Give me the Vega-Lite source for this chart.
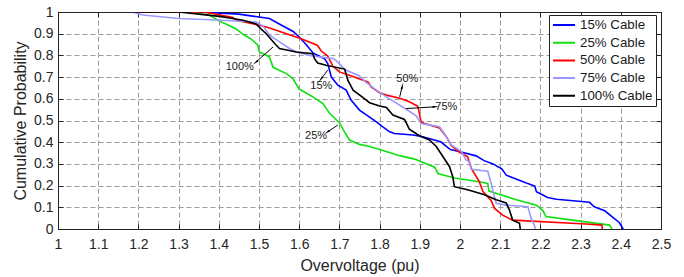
{
  "$schema": "https://vega.github.io/schema/vega-lite/v6.json",
  "width": 603,
  "height": 217,
  "autosize": {"type": "none"},
  "padding": {"left": 58, "top": 12, "right": 23, "bottom": 48},
  "config": {
    "font": "Liberation Sans",
    "view": {"stroke": "#222"},
    "axis": {
      "domainColor": "#222",
      "tickColor": "#222",
      "labelColor": "#262626",
      "titleColor": "#262626",
      "labelFontSize": 14,
      "titleFontSize": 16,
      "titleFontWeight": "normal",
      "tickSize": -5,
      "labelFlush": false,
      "gridColor": "#9a9a9a",
      "gridDash": [5, 3],
      "gridWidth": 1
    }
  },
  "datasets": {
    "curves": [
      {"s":"15% Cable","v":1,"p":1},{"s":"15% Cable","v":1.35,"p":1},{"s":"15% Cable","v":1.45,"p":0.99},{"s":"15% Cable","v":1.5,"p":0.977},{"s":"15% Cable","v":1.526,"p":0.97},{"s":"15% Cable","v":1.555,"p":0.94},{"s":"15% Cable","v":1.585,"p":0.91},{"s":"15% Cable","v":1.6,"p":0.885},{"s":"15% Cable","v":1.615,"p":0.855},{"s":"15% Cable","v":1.635,"p":0.81},{"s":"15% Cable","v":1.663,"p":0.785},{"s":"15% Cable","v":1.671,"p":0.762},{"s":"15% Cable","v":1.68,"p":0.7},{"s":"15% Cable","v":1.696,"p":0.663},{"s":"15% Cable","v":1.717,"p":0.64},{"s":"15% Cable","v":1.729,"p":0.594},{"s":"15% Cable","v":1.75,"p":0.548},{"s":"15% Cable","v":1.792,"p":0.494},{"s":"15% Cable","v":1.808,"p":0.471},{"s":"15% Cable","v":1.825,"p":0.448},{"s":"15% Cable","v":1.837,"p":0.44},{"s":"15% Cable","v":1.883,"p":0.433},{"s":"15% Cable","v":1.907,"p":0.425},{"s":"15% Cable","v":1.952,"p":0.402},{"s":"15% Cable","v":1.976,"p":0.366},{"s":"15% Cable","v":2.0,"p":0.356},{"s":"15% Cable","v":2.04,"p":0.337},{"s":"15% Cable","v":2.06,"p":0.315},{"s":"15% Cable","v":2.082,"p":0.3},{"s":"15% Cable","v":2.104,"p":0.277},{"s":"15% Cable","v":2.115,"p":0.248},{"s":"15% Cable","v":2.165,"p":0.212},{"s":"15% Cable","v":2.186,"p":0.198},{"s":"15% Cable","v":2.19,"p":0.172},{"s":"15% Cable","v":2.218,"p":0.145},{"s":"15% Cable","v":2.24,"p":0.137},{"s":"15% Cable","v":2.322,"p":0.123},{"s":"15% Cable","v":2.334,"p":0.102},{"s":"15% Cable","v":2.36,"p":0.084},{"s":"15% Cable","v":2.396,"p":0.03},{"s":"15% Cable","v":2.406,"p":0},
      {"s":"25% Cable","v":1,"p":1},{"s":"25% Cable","v":1.33,"p":1},{"s":"25% Cable","v":1.377,"p":0.985},{"s":"25% Cable","v":1.402,"p":0.958},{"s":"25% Cable","v":1.427,"p":0.937},{"s":"25% Cable","v":1.443,"p":0.922},{"s":"25% Cable","v":1.462,"p":0.895},{"s":"25% Cable","v":1.481,"p":0.875},{"s":"25% Cable","v":1.497,"p":0.847},{"s":"25% Cable","v":1.501,"p":0.816},{"s":"25% Cable","v":1.526,"p":0.793},{"s":"25% Cable","v":1.535,"p":0.745},{"s":"25% Cable","v":1.568,"p":0.716},{"s":"25% Cable","v":1.584,"p":0.693},{"s":"25% Cable","v":1.6,"p":0.645},{"s":"25% Cable","v":1.634,"p":0.609},{"s":"25% Cable","v":1.646,"p":0.594},{"s":"25% Cable","v":1.659,"p":0.578},{"s":"25% Cable","v":1.676,"p":0.532},{"s":"25% Cable","v":1.7,"p":0.49},{"s":"25% Cable","v":1.715,"p":0.44},{"s":"25% Cable","v":1.725,"p":0.41},{"s":"25% Cable","v":1.75,"p":0.39},{"s":"25% Cable","v":1.775,"p":0.38},{"s":"25% Cable","v":1.808,"p":0.362},{"s":"25% Cable","v":1.85,"p":0.338},{"s":"25% Cable","v":1.887,"p":0.322},{"s":"25% Cable","v":1.937,"p":0.285},{"s":"25% Cable","v":1.945,"p":0.256},{"s":"25% Cable","v":1.986,"p":0.235},{"s":"25% Cable","v":2.048,"p":0.218},{"s":"25% Cable","v":2.069,"p":0.21},{"s":"25% Cable","v":2.072,"p":0.175},{"s":"25% Cable","v":2.14,"p":0.135},{"s":"25% Cable","v":2.19,"p":0.11},{"s":"25% Cable","v":2.206,"p":0.085},{"s":"25% Cable","v":2.214,"p":0.057},{"s":"25% Cable","v":2.28,"p":0.041},{"s":"25% Cable","v":2.372,"p":0.018},{"s":"25% Cable","v":2.378,"p":0},
      {"s":"50% Cable","v":1,"p":1},{"s":"50% Cable","v":1.36,"p":1},{"s":"50% Cable","v":1.385,"p":0.993},{"s":"50% Cable","v":1.435,"p":0.975},{"s":"50% Cable","v":1.443,"p":0.962},{"s":"50% Cable","v":1.501,"p":0.939},{"s":"50% Cable","v":1.518,"p":0.931},{"s":"50% Cable","v":1.543,"p":0.916},{"s":"50% Cable","v":1.568,"p":0.9},{"s":"50% Cable","v":1.6,"p":0.88},{"s":"50% Cable","v":1.645,"p":0.847},{"s":"50% Cable","v":1.655,"p":0.82},{"s":"50% Cable","v":1.671,"p":0.797},{"s":"50% Cable","v":1.684,"p":0.75},{"s":"50% Cable","v":1.7,"p":0.724},{"s":"50% Cable","v":1.725,"p":0.709},{"s":"50% Cable","v":1.771,"p":0.678},{"s":"50% Cable","v":1.779,"p":0.655},{"s":"50% Cable","v":1.8,"p":0.628},{"s":"50% Cable","v":1.817,"p":0.617},{"s":"50% Cable","v":1.85,"p":0.603},{"s":"50% Cable","v":1.874,"p":0.586},{"s":"50% Cable","v":1.895,"p":0.565},{"s":"50% Cable","v":1.899,"p":0.532},{"s":"50% Cable","v":1.903,"p":0.494},{"s":"50% Cable","v":1.912,"p":0.486},{"s":"50% Cable","v":1.949,"p":0.465},{"s":"50% Cable","v":1.966,"p":0.425},{"s":"50% Cable","v":1.978,"p":0.385},{"s":"50% Cable","v":1.997,"p":0.356},{"s":"50% Cable","v":2.019,"p":0.333},{"s":"50% Cable","v":2.028,"p":0.279},{"s":"50% Cable","v":2.048,"p":0.218},{"s":"50% Cable","v":2.057,"p":0.172},{"s":"50% Cable","v":2.077,"p":0.133},{"s":"50% Cable","v":2.086,"p":0.095},{"s":"50% Cable","v":2.106,"p":0.064},{"s":"50% Cable","v":2.131,"p":0.041},{"s":"50% Cable","v":2.314,"p":0.023},{"s":"50% Cable","v":2.353,"p":0.018},{"s":"50% Cable","v":2.354,"p":0},
      {"s":"75% Cable","v":1,"p":1},{"s":"75% Cable","v":1.185,"p":1},{"s":"75% Cable","v":1.211,"p":0.986},{"s":"75% Cable","v":1.3,"p":0.97},{"s":"75% Cable","v":1.41,"p":0.962},{"s":"75% Cable","v":1.493,"p":0.954},{"s":"75% Cable","v":1.51,"p":0.935},{"s":"75% Cable","v":1.526,"p":0.893},{"s":"75% Cable","v":1.551,"p":0.862},{"s":"75% Cable","v":1.576,"p":0.832},{"s":"75% Cable","v":1.593,"p":0.816},{"s":"75% Cable","v":1.626,"p":0.8},{"s":"75% Cable","v":1.65,"p":0.793},{"s":"75% Cable","v":1.686,"p":0.785},{"s":"75% Cable","v":1.7,"p":0.762},{"s":"75% Cable","v":1.713,"p":0.735},{"s":"75% Cable","v":1.75,"p":0.705},{"s":"75% Cable","v":1.767,"p":0.675},{"s":"75% Cable","v":1.792,"p":0.64},{"s":"75% Cable","v":1.817,"p":0.609},{"s":"75% Cable","v":1.837,"p":0.586},{"s":"75% Cable","v":1.866,"p":0.552},{"s":"75% Cable","v":1.891,"p":0.521},{"s":"75% Cable","v":1.903,"p":0.486},{"s":"75% Cable","v":1.949,"p":0.471},{"s":"75% Cable","v":1.961,"p":0.44},{"s":"75% Cable","v":1.978,"p":0.387},{"s":"75% Cable","v":2.003,"p":0.358},{"s":"75% Cable","v":2.015,"p":0.318},{"s":"75% Cable","v":2.024,"p":0.31},{"s":"75% Cable","v":2.028,"p":0.275},{"s":"75% Cable","v":2.069,"p":0.266},{"s":"75% Cable","v":2.077,"p":0.215},{"s":"75% Cable","v":2.082,"p":0.175},{"s":"75% Cable","v":2.09,"p":0.118},{"s":"75% Cable","v":2.115,"p":0.11},{"s":"75% Cable","v":2.169,"p":0.103},{"s":"75% Cable","v":2.177,"p":0.049},{"s":"75% Cable","v":2.185,"p":0.018},{"s":"75% Cable","v":2.187,"p":0},
      {"s":"100% Cable","v":1,"p":1},{"s":"100% Cable","v":1.3,"p":1},{"s":"100% Cable","v":1.402,"p":0.98},{"s":"100% Cable","v":1.435,"p":0.97},{"s":"100% Cable","v":1.46,"p":0.962},{"s":"100% Cable","v":1.493,"p":0.945},{"s":"100% Cable","v":1.506,"p":0.92},{"s":"100% Cable","v":1.518,"p":0.9},{"s":"100% Cable","v":1.539,"p":0.855},{"s":"100% Cable","v":1.551,"p":0.832},{"s":"100% Cable","v":1.572,"p":0.824},{"s":"100% Cable","v":1.593,"p":0.816},{"s":"100% Cable","v":1.634,"p":0.808},{"s":"100% Cable","v":1.638,"p":0.785},{"s":"100% Cable","v":1.646,"p":0.765},{"s":"100% Cable","v":1.667,"p":0.755},{"s":"100% Cable","v":1.713,"p":0.737},{"s":"100% Cable","v":1.721,"p":0.686},{"s":"100% Cable","v":1.734,"p":0.64},{"s":"100% Cable","v":1.759,"p":0.605},{"s":"100% Cable","v":1.775,"p":0.582},{"s":"100% Cable","v":1.8,"p":0.567},{"s":"100% Cable","v":1.817,"p":0.56},{"s":"100% Cable","v":1.833,"p":0.525},{"s":"100% Cable","v":1.862,"p":0.505},{"s":"100% Cable","v":1.874,"p":0.46},{"s":"100% Cable","v":1.899,"p":0.43},{"s":"100% Cable","v":1.924,"p":0.41},{"s":"100% Cable","v":1.941,"p":0.38},{"s":"100% Cable","v":1.957,"p":0.335},{"s":"100% Cable","v":1.974,"p":0.287},{"s":"100% Cable","v":1.982,"p":0.241},{"s":"100% Cable","v":1.986,"p":0.195},{"s":"100% Cable","v":2.019,"p":0.181},{"s":"100% Cable","v":2.061,"p":0.158},{"s":"100% Cable","v":2.09,"p":0.135},{"s":"100% Cable","v":2.115,"p":0.12},{"s":"100% Cable","v":2.123,"p":0.087},{"s":"100% Cable","v":2.131,"p":0.041},{"s":"100% Cable","v":2.148,"p":0.026},{"s":"100% Cable","v":2.15,"p":0}
    ],
    "arrows": [
      {"t":"100%","x":1.535,"y":0.839,"x2":1.493,"y2":0.77,"a":229},
      {"t":"15%","x":1.671,"y":0.732,"x2":1.655,"y2":0.693,"a":218},
      {"t":"25%","x":1.696,"y":0.479,"x2":1.671,"y2":0.448,"a":236},
      {"t":"50%","x":1.85,"y":0.609,"x2":1.856,"y2":0.655,"a":15},
      {"t":"75%","x":1.866,"y":0.555,"x2":1.937,"y2":0.563,"a":87}
    ],
    "labels": [
      {"t":"100%","x":1.452,"y":0.747},
      {"t":"15%","x":1.655,"y":0.66},
      {"t":"25%","x":1.642,"y":0.428},
      {"t":"50%","x":1.869,"y":0.689},
      {"t":"75%","x":1.966,"y":0.563}
    ]
  },
  "resolve": {"axis": {"x": "independent", "y": "independent"}},
  "layer": [
    {
      "data": {"name": "curves"},
      "mark": {"type": "line", "strokeWidth": 1.6, "clip": true},
      "encoding": {
        "x": {"field": "v", "type": "quantitative",
          "scale": {"domain": [1, 2.5], "nice": false, "zero": false},
          "axis": {"orient": "bottom", "title": "Overvoltage (pu)", "values": [1,1.1,1.2,1.3,1.4,1.5,1.6,1.7,1.8,1.9,2,2.1,2.2,2.3,2.4,2.5], "format": "~g", "labelPadding": 13, "titlePadding": 6, "grid": true}},
        "y": {"field": "p", "type": "quantitative",
          "scale": {"domain": [0, 1], "nice": false, "zero": false},
          "axis": {"orient": "left", "title": "Cumulative Probability", "values": [0,0.1,0.2,0.3,0.4,0.5,0.6,0.7,0.8,0.9,1], "format": "~g", "labelPadding": 10, "titlePadding": 5, "grid": true}},
        "color": {"field": "s", "type": "nominal",
          "scale": {"domain": ["15% Cable","25% Cable","50% Cable","75% Cable","100% Cable"], "range": ["#0000ff","#10e010","#ff0000","#9999ff","#000000"]},
          "legend": {"title": null, "orient": "none", "legendX": 491, "legendY": 3, "symbolType": "stroke", "symbolSize": 484, "symbolStrokeWidth": 2, "labelFontSize": 13.3, "labelColor": "#1a1a1a", "clipHeight": 14, "rowPadding": 3.7, "labelOffset": 4, "padding": 3, "strokeColor": "#222", "fillColor": "white"}},
        "order": {"value": null}
      }
    },
    {
      "data": {"name": "arrows"},
      "mark": {"type": "rule", "color": "black", "strokeWidth": 1},
      "encoding": {
        "x": {"field": "x", "type": "quantitative", "axis": null},
        "y": {"field": "y", "type": "quantitative", "axis": null},
        "x2": {"field": "x2"},
        "y2": {"field": "y2"}
      }
    },
    {
      "data": {"name": "arrows"},
      "mark": {"type": "point", "shape": "wedge", "filled": true, "color": "black", "size": 60, "opacity": 1},
      "encoding": {
        "x": {"field": "x2", "type": "quantitative", "axis": null},
        "y": {"field": "y2", "type": "quantitative", "axis": null},
        "angle": {"field": "a", "type": "quantitative", "scale": null}
      }
    },
    {
      "data": {"name": "labels"},
      "mark": {"type": "text", "fontSize": 11, "color": "#1a1a1a"},
      "encoding": {
        "x": {"field": "x", "type": "quantitative",
          "axis": {"orient": "top", "title": null, "labels": false, "grid": false, "values": [1,1.1,1.2,1.3,1.4,1.5,1.6,1.7,1.8,1.9,2,2.1,2.2,2.3,2.4,2.5]}},
        "y": {"field": "y", "type": "quantitative",
          "axis": {"orient": "right", "title": null, "labels": false, "grid": false, "values": [0,0.1,0.2,0.3,0.4,0.5,0.6,0.7,0.8,0.9,1]}},
        "text": {"field": "t"}
      }
    }
  ]
}
